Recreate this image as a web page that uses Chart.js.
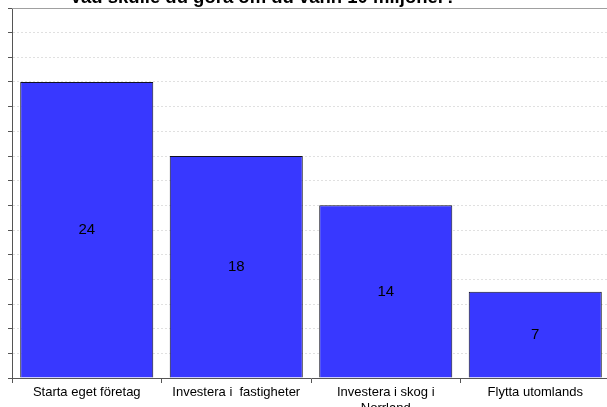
<!DOCTYPE html>
<html>
<head>
<meta charset="utf-8">
<script src="https://cdn.jsdelivr.net/npm/chart.js@4/dist/chart.umd.min.js"></script>
<style>
  html, body { margin: 0; padding: 0; background: #fff; }
  #wrap { position: relative; width: 607px; height: 407px; overflow: hidden; }
  #box { position: absolute; left: 0; top: 0; width: 612px; height: 407px; }
</style>
</head>
<body>
<div id="wrap"><div id="box"><canvas id="chart"></canvas></div></div>
<script>
const titleText = 'Vad skulle du göra om du vann 10 miljoner?';
const categories = [
  'Starta eget företag',
  'Investera i  fastigheter',
  ['Investera i skog i', 'Norrland'],
  'Flytta utomlands'
];
const values = [24, 18, 14, 7];
const yMin = 0, yMax = 30, yStep = 2;

const FONT = "'Liberation Sans', Arial, sans-serif";

// title (only its lower part is visible) + top border + value labels
const extras = {
  id: 'extras',
  afterDatasetsDraw(chart) {
    const c = chart.ctx, a = chart.chartArea;
    c.save();
    c.strokeStyle = '#a0a0a0';
    c.lineWidth = 1;
    c.beginPath();
    c.moveTo(a.left, a.top + 0.5);
    c.lineTo(a.right, a.top + 0.5);
    c.stroke();

    c.fillStyle = '#000';
    c.font = '15px ' + FONT;
    c.textAlign = 'center';
    c.textBaseline = 'middle';
    const meta = chart.getDatasetMeta(0);
    meta.data.forEach((bar, i) => {
      c.fillText(String(values[i]), bar.x, (bar.y + bar.base) / 2);
    });

    c.font = 'bold 18.5px ' + FONT;
    c.textBaseline = 'alphabetic';
    c.fillText(titleText, 263, 3);
    c.restore();
  }
};

new Chart(document.getElementById('chart'), {
  type: 'bar',
  data: {
    labels: categories,
    datasets: [{
      data: values,
      backgroundColor: '#3838ff',
      borderColor: '#101020',
      borderWidth: 1,
      borderSkipped: 'bottom',
      barPercentage: 0.89,
      categoryPercentage: 1
    }]
  },
  options: {
    responsive: true,
    maintainAspectRatio: false,
    animation: false,
    layout: { padding: { top: 8, left: 0, right: 2, bottom: 0 } },
    plugins: { legend: { display: false }, title: { display: false }, tooltip: { enabled: false } },
    scales: {
      x: {
        offset: true,
        grid: { offset: true, drawOnChartArea: false, drawTicks: true, tickLength: 5, tickColor: '#555' },
        border: { color: '#555' },
        ticks: { color: '#000', font: { family: FONT, size: 13 }, padding: 2, maxRotation: 0, autoSkip: false },
        afterFit(s) { s.height = 29; }
      },
      y: {
        min: yMin, max: yMax,
        grid: { color: '#e0e0e0', tickLength: 4, tickColor: '#555', tickBorderDash: [] },
        border: { color: '#555', dash: [2, 2] },
        ticks: { stepSize: yStep, display: false },
        afterFit(s) { s.width = 12; }
      }
    }
  },
  plugins: [extras]
});
</script>
</body>
</html>
